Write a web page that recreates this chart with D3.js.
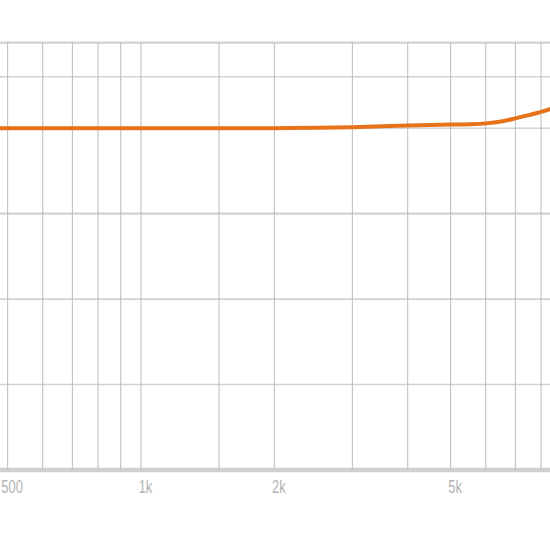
<!DOCTYPE html>
<html>
<head>
<meta charset="utf-8">
<script src="https://cdn.jsdelivr.net/npm/d3@7"></script>
<style>
  html, body { margin: 0; padding: 0; background: #fff; overflow: hidden; }
  svg { display: block; }
  .tick text { font-family: "Liberation Sans", Arial, sans-serif; }
</style>
</head>
<body>
<svg id="chart" width="550" height="538"></svg>
<script>
// Frequency (Hz) and response (dB)
const freqs = [450, 500, 600, 700, 800, 900, 1000, 1500, 2000, 2500, 3000, 4000, 5000, 5500, 6000, 6500, 7000, 7500, 8000, 8500, 9000];
const gains = [0, 0, 0, 0, 0, 0, 0, 0, 0, 0.02, 0.06, 0.16, 0.21, 0.23, 0.28, 0.39, 0.57, 0.76, 0.95, 1.17, 1.4];

// Grid values
const freqGrid = [500, 600, 700, 800, 900, 1000, 1500, 2000, 3000, 4000, 5000, 6000, 7000, 8000];
const freqLabels = [500, 1000, 2000, 5000];
const dbGrid = [5, 3, 0, -5, -10, -15];
const dbDomain = [-20, 5];
const freqDomain = [1000, 10000];

const svg = d3.select("#chart");

const x = d3.scaleLog().domain(freqDomain).range([141, 584]);
const y = d3.scaleLinear().domain(dbDomain).range([470, 42.7]);

const xLeft = x(450), xRight = x(9000);

// horizontal grid
svg.append("g").selectAll("line").data(dbGrid).join("line")
  .attr("x1", xLeft).attr("x2", xRight)
  .attr("y1", d => y(d)).attr("y2", d => y(d))
  .attr("stroke", d => (d === 3 || d === 0) ? "#bdbdbd" : "#d2d2d2")
  .attr("stroke-width", d => (d === 3 || d === 0) ? 1 : (d === 5 || d === -5 ? 2.2 : 1.6));

// vertical grid
svg.append("g").selectAll("line").data(freqGrid).join("line")
  .attr("x1", d => x(d)).attr("x2", d => x(d))
  .attr("y1", y(5)).attr("y2", y(-20))
  .attr("stroke", "#bcbcbc")
  .attr("stroke-width", 1);

// bottom axis
const axis = d3.axisBottom(x)
  .tickValues(freqLabels)
  .tickFormat(d => d >= 1000 ? (d / 1000) + "k" : String(d))
  .tickSize(0)
  .tickPadding(10);

const gAxis = svg.append("g").attr("transform", `translate(0,${y(-20)})`).call(axis);
gAxis.select(".domain").remove();
gAxis.insert("line", ":first-child")
  .attr("x1", xLeft).attr("x2", xRight)
  .attr("y1", 0).attr("y2", 0)
  .attr("stroke", "#d0d0d0").attr("stroke-width", 4.5);
gAxis.selectAll(".tick text")
  .attr("fill", "#b3b3b3")
  .attr("font-size", 18)
  .attr("transform", "translate(4,0) scale(0.72,1)");

// minor tick marks on the axis
gAxis.append("g").selectAll("line").data(freqGrid).join("line")
  .attr("x1", d => x(d)).attr("x2", d => x(d))
  .attr("y1", -4).attr("y2", 0)
  .attr("stroke", "#c4c4c4").attr("stroke-width", 1);

// response curve
const data = freqs.map((f, i) => ({ f, g: gains[i] }));
const line = d3.line()
  .x(d => x(d.f))
  .y(d => y(d.g))
  .curve(d3.curveMonotoneX);

svg.append("path")
  .datum(data)
  .attr("d", line)
  .attr("fill", "none")
  .attr("stroke", "#e8721a")
  .attr("stroke-width", 4)
  .attr("stroke-linecap", "round");
</script>
</body>
</html>
